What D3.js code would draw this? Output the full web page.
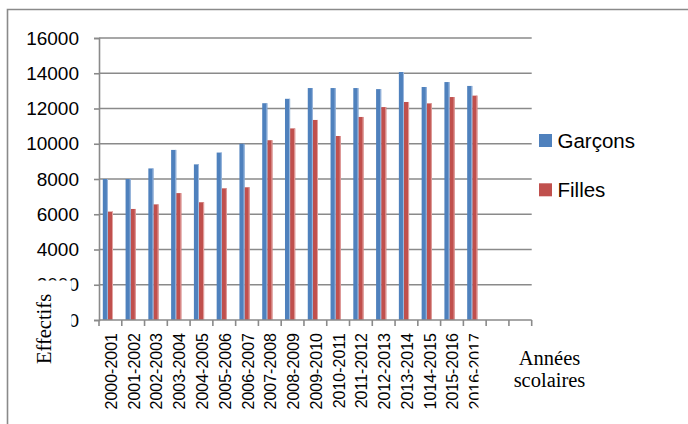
<!DOCTYPE html>
<html>
<head>
<meta charset="utf-8">
<script src="https://cdn.jsdelivr.net/npm/d3@7"></script>
<style>
  html, body { margin: 0; padding: 0; background: #fff; }
  svg { display: block; }
</style>
</head>
<body>
<svg id="chart" width="688" height="424"></svg>
<script>
// School years (two empty slots follow on the category axis)
const years = ["2000-2001","2001-2002","2002-2003","2003-2004","2004-2005","2005-2006",
  "2006-2007","2007-2008","2008-2009","2009-2010","2010-2011","2011-2012","2012-2013",
  "2013-2014","1014-2015","2015-2016","2016-2017"];
const emptySlots = ["", ""];
const seriesNames = ["Garçons", "Filles"];
const seriesColors = ["#4F81BD", "#C0504D"];
const seriesEdges = ["#9DB9DE", "#E2A3A1"];
const garcons = [8000, 8000, 8600, 9650, 8830, 9500, 10000, 12300, 12550, 13160, 13160, 13160,
  13100, 14070, 13220, 13500, 13280];
const filles = [6150, 6300, 6560, 7200, 6680, 7470, 7530, 10200, 10870, 11350, 10440, 11520,
  12080, 12370, 12290, 12650, 12730];
const yTicks = [0, 2000, 4000, 6000, 8000, 10000, 12000, 14000, 16000];

const svg = d3.select("#chart");
const plot = { left: 99, right: 531.7, top: 38, bottom: 320 };
const grey = "#8A8A8A";

// Outer chart frame (left and top edges)
svg.append("path")
  .attr("d", "M7.5,424 V9.5 H688")
  .attr("fill", "none").attr("stroke", grey).attr("stroke-width", 1.6);

const slots = years.map((d, i) => i).concat(emptySlots.map((d, i) => years.length + i));
const x = d3.scaleBand().domain(slots).range([plot.left, plot.right]).padding(0);
const xs = d3.scaleBand().domain(seriesNames).range([3.8, 14]).padding(0);
const y = d3.scaleLinear().domain([0, 16000]).range([plot.bottom, plot.top]);

// Horizontal gridlines
svg.append("g").selectAll("line").data(yTicks.filter(t => t > 0)).join("line")
  .attr("x1", plot.left).attr("x2", plot.right)
  .attr("y1", d => y(d)).attr("y2", d => y(d))
  .attr("stroke", grey).attr("stroke-width", 1.6);

// Bars
const rows = years.map((yr, i) => ({ i, values: [garcons[i], filles[i]] }));
const groups = svg.append("g").selectAll("g").data(rows).join("g")
  .attr("transform", d => `translate(${x(d.i)},0)`);
groups.selectAll("rect.bar").data(d => d.values.map((v, k) => ({ v, k }))).join("rect")
  .attr("class", "bar")
  .attr("x", d => xs(seriesNames[d.k]))
  .attr("width", xs.bandwidth())
  .attr("y", d => y(d.v))
  .attr("height", d => y(0) - y(d.v))
  .attr("fill", d => seriesColors[d.k]);
groups.selectAll("rect.edge").data(d => d.values.map((v, k) => ({ v, k }))).join("rect")
  .attr("class", "edge")
  .attr("x", d => xs(seriesNames[d.k]) + xs.bandwidth() - 1)
  .attr("width", 1)
  .attr("y", d => y(d.v))
  .attr("height", d => y(0) - y(d.v))
  .attr("fill", d => seriesEdges[d.k]);

// Y axis
const yAxis = svg.append("g").attr("transform", `translate(${plot.left},0)`)
  .call(d3.axisLeft(y).tickValues(yTicks).tickSize(5).tickPadding(15).tickFormat(d3.format("d")));
yAxis.select(".domain").attr("stroke", grey).attr("stroke-width", 1.6);
yAxis.selectAll(".tick line").attr("stroke", grey).attr("stroke-width", 1.6);
yAxis.selectAll(".tick text")
  .attr("font-family", "'Liberation Sans', Arial, sans-serif")
  .attr("font-size", 19).attr("fill", "#000");

// X axis: tick marks at slot boundaries
const xAxis = svg.append("g");
xAxis.append("line")
  .attr("x1", plot.left).attr("x2", plot.right)
  .attr("y1", plot.bottom).attr("y2", plot.bottom)
  .attr("stroke", grey).attr("stroke-width", 1.6);
xAxis.selectAll("line.tick").data(slots.concat([slots.length])).join("line")
  .attr("class", "tick")
  .attr("x1", d => d < slots.length ? x(d) : plot.right)
  .attr("x2", d => d < slots.length ? x(d) : plot.right)
  .attr("y1", plot.bottom).attr("y2", plot.bottom + 6)
  .attr("stroke", grey).attr("stroke-width", 1.6);
xAxis.selectAll("text").data(years).join("text")
  .attr("transform", (d, i) => `translate(${x(i) + x.bandwidth() / 2 + 6.5},${plot.bottom + 13}) rotate(-90)`)
  .attr("text-anchor", "end")
  .attr("font-family", "'Liberation Sans', Arial, sans-serif")
  .attr("font-size", 16).attr("fill", "#000")
  .text(d => d);

// Axis titles on white boxes
svg.append("rect").attr("x", 28).attr("y", 280.5).attr("width", 43.5).attr("height", 95).attr("fill", "#fff");
svg.append("text")
  .attr("transform", "translate(51,329) rotate(-90)")
  .attr("text-anchor", "middle")
  .attr("font-family", "'Liberation Serif', 'Times New Roman', serif")
  .attr("font-size", 20.5).attr("fill", "#000")
  .text("Effectifs");

svg.append("rect").attr("x", 478.5).attr("y", 328).attr("width", 200).attr("height", 96).attr("fill", "#fff");
const xTitle = svg.append("text")
  .attr("text-anchor", "middle")
  .attr("font-family", "'Liberation Serif', 'Times New Roman', serif")
  .attr("font-size", 20.5).attr("fill", "#000");
xTitle.append("tspan").attr("x", 549.5).attr("y", 365).text("Années");
xTitle.append("tspan").attr("x", 549.5).attr("y", 387).text("scolaires");

// Legend
const legend = svg.append("g").selectAll("g").data(seriesNames).join("g")
  .attr("transform", (d, i) => `translate(539,${134 + i * 49.3})`);
legend.append("rect").attr("width", 13).attr("height", 13)
  .attr("fill", (d, i) => seriesColors[i]);
legend.append("text")
  .attr("x", 18.5).attr("y", 13.5)
  .attr("font-family", "'Liberation Sans', Arial, sans-serif")
  .attr("font-size", 20.5).attr("fill", "#000")
  .text(d => d);
</script>
</body>
</html>
